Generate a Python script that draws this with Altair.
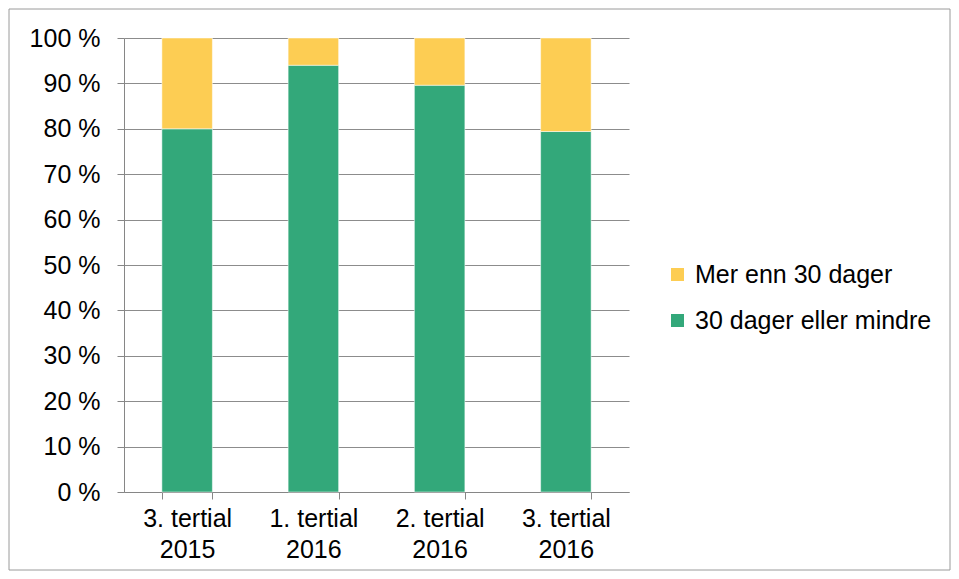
import altair as alt
import pandas as pd

categories = ["3. tertial|2015", "1. tertial|2016", "2. tertial|2016", "3. tertial|2016"]
green_vals = [80.0, 94.0, 89.6, 79.4]
series = ["Mer enn 30 dager", "30 dager eller mindre"]
colors = ["#FDCD53", "#33A87A"]

rows = []
for c, g in zip(categories, green_vals):
    rows.append({"kat": c, "serie": series[1], "verdi": g, "ord": 0})
    rows.append({"kat": c, "serie": series[0], "verdi": round(100 - g, 1), "ord": 1})
df = pd.DataFrame(rows)

font = "Liberation Sans"
fs = 25

bars = alt.Chart(df).mark_bar(stroke="white", strokeWidth=0.5).encode(
    x=alt.X("kat:N", sort=categories, title=None,
            scale=alt.Scale(paddingInner=0.6, paddingOuter=0.3),
            axis=alt.Axis(labelExpr="split(datum.label, '|')", labelAngle=0,
                          tickBand="extent", tickSize=7, tickColor="#868686",
                          domainColor="#868686", labelFontSize=fs, labelFont=font,
                          labelColor="#000000", labelPadding=7, labelLineHeight=31,
                          labelBaseline="top", labelLimit=0)),
    y=alt.Y("verdi:Q", stack="zero", title=None,
            scale=alt.Scale(domain=[0, 100]),
            axis=alt.Axis(values=list(range(0, 101, 10)), labelExpr="datum.value + ' %'",
                          tickSize=7, tickColor="#868686", domainColor="#868686",
                          gridColor="#8c8c8c", gridWidth=1.2, labelFontSize=fs,
                          labelFont=font, labelColor="#000000", labelPadding=17,
                          labelLimit=0)),
    color=alt.Color("serie:N", sort=series,
                    scale=alt.Scale(domain=series, range=colors),
                    legend=alt.Legend(title=None, orient="none", legendX=541, legendY=224,
                                      symbolType="square", symbolSize=169,
                                      symbolStrokeWidth=0, labelFontSize=fs,
                                      labelFont=font, labelColor="#000000",
                                      rowPadding=20, labelOffset=5, labelLimit=0)),
    order=alt.Order("ord:Q"),
)

frame = alt.Chart(pd.DataFrame({"a": [0]})).mark_rect(
    fill=None, stroke="#9a9a9a", strokeWidth=1, clip=False
).encode(x=alt.value(-115), x2=alt.value(826), y=alt.value(-29), y2=alt.value(532))

chart = alt.layer(frame, bars).properties(
    width=505, height=454,
    autosize=alt.AutoSizeParams(type="none"),
    padding={"left": 116, "top": 30, "right": 322, "bottom": 79},
    background="white",
).configure_view(stroke=None)

chart.save("out.html", embed_options={"renderer": "svg", "actions": False})
